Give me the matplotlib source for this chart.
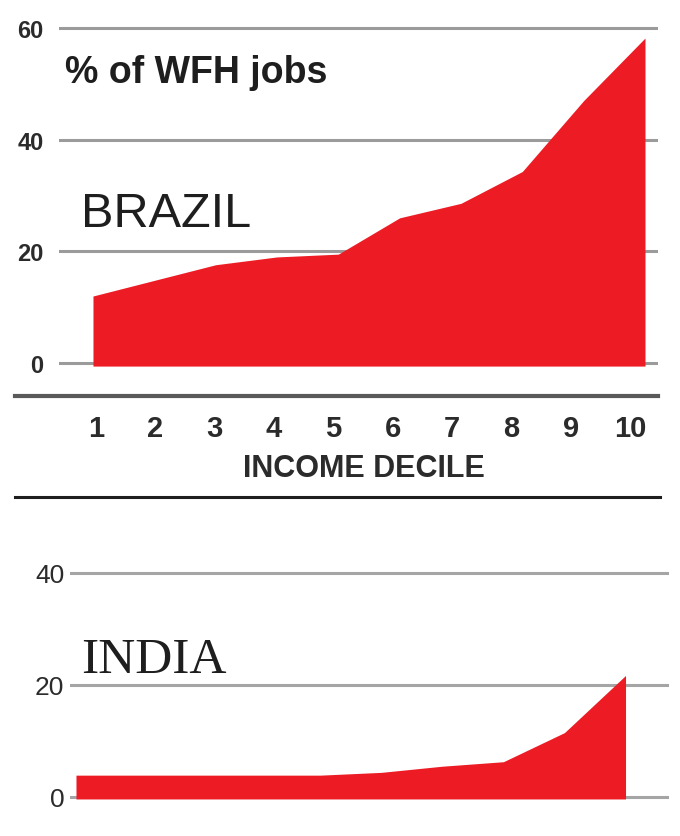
import matplotlib
matplotlib.use("Agg")
import matplotlib.pyplot as plt
from matplotlib import transforms
from matplotlib.lines import Line2D

plt.rcParams["font.family"] = ["Liberation Sans", "DejaVu Sans"]

# share of work-from-home jobs (%) by income decile
deciles = [1, 2, 3, 4, 5, 6, 7, 8, 9, 10]
brazil = [12.0, 14.8, 17.6, 19.0, 19.5, 26.0, 28.6, 34.3, 47.0, 58.2]
india = [3.9, 3.9, 3.9, 3.9, 3.9, 4.4, 5.5, 6.3, 11.5, 21.7]
brazil_ticks = [0, 20, 40, 60]
india_ticks = [0, 20, 40]

W, H = 680, 837
RED = "#ed1c24"
INK = "#1e1e1e"


def rect(x0, y0, x1, y1):
	# pixel box (from top-left) -> figure fraction
	return [x0 / W, 1 - y1 / H, (x1 - x0) / W, (y1 - y0) / H]


def fy(y):
	return 1 - y / H


def strip(ax):
	for s in ax.spines.values():
		s.set_visible(False)
	ax.set_facecolor("none")
	ax.set_xticks([])


def main():
	fig = plt.figure(figsize=(W / 100, H / 100), dpi=100)

	# --- Brazil
	ax1 = fig.add_axes(rect(59, 20, 658, 372))
	ax1.set_xlim(0.446, 10.212)
	ax1.set_ylim(-1.43, 61.61)
	for t in brazil_ticks:
		ax1.axhline(t, color="#9b9b9b", lw=2.2, zorder=1)
	ax1.fill_between(deciles, -0.55, brazil, color=RED, lw=0, zorder=2)
	ax1.set_yticks(brazil_ticks)
	ax1.tick_params(axis="y", length=0, pad=11, labelsize=17, labelcolor="#2b2b2b")
	for lab in ax1.get_yticklabels():
		lab.set_fontweight("bold")
	strip(ax1)

	fig.text(65 / W, fy(83), "% of WFH jobs", fontsize=27, fontweight="bold",
		color=INK, ha="left", va="baseline")
	fig.text(81 / W, fy(227), "BRAZIL", fontsize=35, color=INK, ha="left", va="baseline")

	# decile axis
	fig.add_artist(Line2D([15 / W, 658 / W], [fy(397)] * 2, color="#5a5a5a", lw=3,
		transform=fig.transFigure))
	axs = fig.add_axes(rect(15, 400, 658, 480))
	axs.set_xlim(-0.365, 10.472)
	axs.axis("off")
	trans = transforms.blended_transform_factory(axs.transData, fig.transFigure)
	for d in deciles:
		axs.text(d, fy(437), str(d), transform=trans, ha="center", va="baseline",
			fontsize=21, fontweight="bold", color="#2b2b2b")
	fig.text(364 / W, fy(477), "INCOME DECILE", fontsize=22, fontweight="bold",
		color="#2b2b2b", ha="center", va="baseline")

	fig.add_artist(Line2D([15 / W, 660 / W], [fy(498)] * 2, color=INK, lw=2.2,
		transform=fig.transFigure))

	# --- India
	ax2 = fig.add_axes(rect(70, 555, 669, 805))
	ax2.set_xlim(0.902, 10.712)
	ax2.set_ylim(-1.25, 43.39)
	for t in india_ticks:
		ax2.axhline(t, color="#a5a5a5", lw=2.2, zorder=1)
	ax2.fill_between(deciles, -0.35, india, color=RED, lw=0, zorder=2)
	ax2.set_yticks(india_ticks)
	ax2.tick_params(axis="y", length=0, pad=4, labelsize=19, labelcolor="#2b2b2b")
	strip(ax2)

	fig.text(81 / W, fy(673), "INDIA", fontsize=37, color=INK, ha="left", va="baseline",
		family=["Liberation Serif", "DejaVu Serif"])

	fig.savefig("out.png", dpi=100, facecolor="white")


if __name__ == "__main__":
	main()
